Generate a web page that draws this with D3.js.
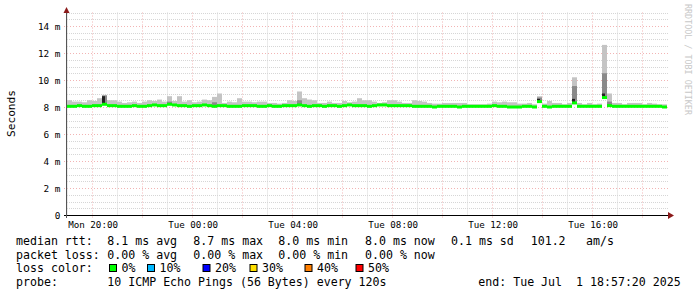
<!DOCTYPE html>
<html>
<head>
<meta charset="utf-8">
<script src="https://cdn.jsdelivr.net/npm/d3@7/dist/d3.min.js"></script>
<style>
body { margin: 0; background: #fff; }
text { font-family: "DejaVu Sans Mono", monospace; fill: #000; }
</style>
</head>
<body>
<div id="chart"></div>
<script>
// median rtt in ms, one value every 12 minutes (120 steps = 24h)
var median = [
	8.05,8.05,8.1,8.05,8.05,8.1,8.1,8.2,8.1,8.1,
	8.05,8.05,8.05,8.1,8.05,8.05,8.1,8.15,8.1,8.1,
	8.2,8.15,8.1,8.1,8.05,8.1,8.1,8.15,8.1,8.05,
	8.1,8.1,8.05,8.05,8.05,8.1,8.1,8.1,8.05,8.05,
	8.1,8.05,8.05,8.1,8.1,8.1,8.15,8.1,8.05,8.1,
	8.1,8.05,8.1,8.1,8.05,8.1,8.15,8.1,8.1,8.1,
	8.05,8.1,8.15,8.15,8.1,8.1,8.1,8.1,8.1,8.05,
	8.05,8.05,8.05,8.0,8.05,8.05,8.05,8.05,8.0,8.05,
	8.05,8.05,8.05,8.05,8.05,8.1,8.05,8.05,8.0,8.0,
	8.0,8.05,8.05,8.0,8.4,8.05,8.0,8.05,8.05,8.05,
	8.05,8.3,8.05,8.05,8.05,8.05,8.05,8.7,8.1,8.05,
	8.05,8.05,8.05,8.05,8.05,8.05,8.05,8.05,8.05,8.0
];

// highest ping of each step (light smoke)
var smokeHi = [
	8.5,8.4,8.4,8.35,8.5,8.45,8.65,8.9,8.5,8.5,
	8.4,8.3,8.35,8.4,8.3,8.4,8.5,8.45,8.55,8.4,
	8.8,8.45,8.8,8.4,8.5,8.35,8.4,8.55,8.5,8.75,
	9.0,8.3,8.4,8.35,8.65,8.4,8.4,8.35,8.4,8.4,
	8.3,8.3,8.25,8.3,8.5,8.45,9.15,8.65,8.55,8.5,
	8.3,8.3,8.4,8.3,8.3,8.45,8.35,8.4,8.65,8.5,
	8.5,8.4,8.3,8.35,8.5,8.5,8.4,8.3,8.3,8.5,
	8.45,8.4,8.3,8.25,8.25,8.3,8.3,8.3,8.3,8.3,
	8.2,8.2,8.2,8.2,8.25,8.4,8.35,8.4,8.35,8.35,
	8.25,8.25,8.3,8.2,8.8,8.25,8.45,8.3,8.3,8.2,
	8.3,10.2,8.3,8.2,8.3,8.2,8.25,12.6,9.0,8.3,
	8.3,8.2,8.3,8.3,8.3,8.2,8.3,8.25,8.2,8.2
];

// darker smoke, only where it shows above the median
var darkIdx = [7, 20, 29, 46, 94, 101, 107, 108];
var darkTop = [8.85, 8.4, 8.35, 8.5, 8.7, 9.55, 10.5, 8.4];
var coreIdx = [7, 94, 101, 107];
var coreTop = [8.8, 8.6, 8.6, 9.0];

var yTicks = [0, 2, 4, 6, 8, 10, 12, 14];
var yTickLabels = ["0", "2 m", "4 m", "6 m", "8 m", "10 m", "12 m", "14 m"];

var lossLabels = ["0%", "10%", "20%", "30%", "40%", "50%"];
var lossColors = ["#00ff00", "#00b8ff", "#0000ff", "#ffe000", "#ff7f00", "#ff0000"];

var rttStats = ["8.1 ms avg", "8.7 ms max", "8.0 ms min", "8.0 ms now", "0.1 ms sd", "101.2", "am/s"];
var lossStats = ["0.00 % avg", "0.00 % max", "0.00 % min", "0.00 % now"];
var probeText = "10 ICMP Echo Pings (56 Bytes) every 120s";
var endText = "end: Tue Jul  1 18:57:20 2025";

var startTime = new Date(2025, 5, 30, 18, 57, 20);
var endTime = new Date(2025, 6, 1, 18, 57, 20);
var stepMs = 12 * 60 * 1000;

var width = 697, height = 297;
var plot = {left: 67, right: 667, top: 12.5, bottom: 215};

var svg = d3.select("#chart").append("svg")
	.attr("width", width)
	.attr("height", height);

var x = d3.scaleTime()
	.domain([startTime, endTime])
	.range([plot.left, plot.right]);

var y = d3.scaleLinear()
	.domain([0, 15])
	.range([plot.bottom, plot.top]);

function t(i) { return new Date(startTime.getTime() + i * stepMs); }

// grid
var grid = svg.append("g");
var minorY = d3.range(0, 15.01, 0.5);
grid.selectAll(".hy")
	.data(minorY).enter()
	.append("line")
	.attr("x1", function(d) { return d % 2 == 0 ? plot.left - 3 : plot.left; })
	.attr("x2", plot.right + 2)
	.attr("y1", function(d) { return Math.round(y(d)) + 0.5; })
	.attr("y2", function(d) { return Math.round(y(d)) + 0.5; })
	.attr("stroke", function(d) { return d % 2 == 0 ? "#f2b4b4" : "#d6d6d6"; })
	.attr("stroke-dasharray", function(d) { return d % 2 == 0 ? "1,2" : "1,1"; });

var hours = x.ticks(d3.timeHour.every(1));
grid.selectAll(".vx")
	.data(hours).enter()
	.append("line")
	.attr("x1", function(d) { return Math.round(x(d)) - 0.5; })
	.attr("x2", function(d) { return Math.round(x(d)) - 0.5; })
	.attr("y1", plot.top)
	.attr("y2", function(d) { return d.getHours() % 2 == 0 ? plot.bottom + 3 : plot.bottom; })
	.attr("stroke", function(d) { return d.getHours() % 2 == 0 ? "#f2b4b4" : "#d6d6d6"; })
	.attr("stroke-dasharray", function(d) { return d.getHours() % 2 == 0 ? "1,2" : "1,1"; });

// smoke
var smoke = svg.append("g");
smoke.selectAll(".hi")
	.data(smokeHi).enter()
	.append("rect")
	.attr("x", function(d, i) { return x(t(i)); })
	.attr("width", function(d, i) { return x(t(i + 1)) - x(t(i)); })
	.attr("y", function(d) { return y(d); })
	.attr("height", function(d, i) { return Math.max(0, y(median[i]) - y(d)); })
	.attr("fill", "#c4c4c4");

smoke.selectAll(".dark")
	.data(darkIdx).enter()
	.append("rect")
	.attr("x", function(d) { return x(t(d)); })
	.attr("width", function(d) { return x(t(d + 1)) - x(t(d)); })
	.attr("y", function(d, k) { return y(darkTop[k]); })
	.attr("height", function(d, k) { return Math.max(0, y(median[d]) - y(darkTop[k])); })
	.attr("fill", "#8a8a8a");

smoke.selectAll(".core")
	.data(coreIdx).enter()
	.append("rect")
	.attr("x", function(d) { return x(t(d)); })
	.attr("width", function(d) { return (x(t(d + 1)) - x(t(d))) * 0.6; })
	.attr("y", function(d, k) { return y(coreTop[k]); })
	.attr("height", function(d, k) { return Math.max(0, y(median[d]) - y(coreTop[k])); })
	.attr("fill", "#222");

// median: smokeping stacks a thin band per step, no vertical joins
svg.append("g").selectAll(".med")
	.data(median).enter()
	.append("rect")
	.attr("x", function(d, i) { return x(t(i)); })
	.attr("width", function(d, i) { return x(t(i + 1)) - x(t(i)); })
	.attr("y", function(d) { return y(d) - 1.5; })
	.attr("height", 3)
	.attr("fill", "#00ff00");

// axes
svg.append("line")
	.attr("x1", plot.left - 3).attr("x2", 669)
	.attr("y1", plot.bottom + 0.5).attr("y2", plot.bottom + 0.5)
	.attr("stroke", "#000");
svg.append("line")
	.attr("x1", plot.left - 0.5).attr("x2", plot.left - 0.5)
	.attr("y1", plot.bottom + 3).attr("y2", 12)
	.attr("stroke", "#555");
svg.append("path")
	.attr("d", "M668,212L674,215.5L668,219Z")
	.attr("fill", "#8b1a1a");
svg.append("path")
	.attr("d", "M63.5,13L66.5,7L69.5,13Z")
	.attr("fill", "#8b1a1a");

// tick labels
svg.selectAll(".ylab")
	.data(yTicks).enter()
	.append("text")
	.attr("x", 60.5)
	.attr("y", function(d) { return y(d) + 3.5; })
	.attr("text-anchor", "end")
	.style("font-size", "9.4px")
	.text(function(d, i) { return yTickLabels[i]; });

var fmt = d3.timeFormat("%a %H:%M");
svg.selectAll(".xlab")
	.data(hours.filter(function(d) { return d.getHours() % 4 == 0; })).enter()
	.append("text")
	.attr("x", function(d) { return x(d); })
	.attr("y", 227.5)
	.attr("text-anchor", "middle")
	.style("font-size", "9.2px")
	.text(fmt);

svg.append("text")
	.attr("transform", "translate(14.5,113.5) rotate(-90)")
	.attr("text-anchor", "middle")
	.style("font-size", "11.2px")
	.text("Seconds");

svg.append("text")
	.attr("transform", "translate(685,59.5) rotate(90)")
	.attr("text-anchor", "middle")
	.style("font-size", "8.4px")
	.style("fill", "#c8c8c8")
	.text("RRDTOOL / TOBI OETIKER");

// legend
var legend = svg.append("g").style("font-size", "11.6px");
var rowY = [244.5, 258.5, 272.3, 286];
var statX = [107.3, 193.3, 278.3, 365, 451, 530.7, 586];

legend.append("text").attr("x", 16).attr("y", rowY[0]).text("median rtt:");
legend.selectAll(".rtt")
	.data(rttStats).enter()
	.append("text")
	.attr("x", function(d, i) { return statX[i]; })
	.attr("y", rowY[0])
	.text(function(d) { return d; });

legend.append("text").attr("x", 16).attr("y", rowY[1]).text("packet loss:");
legend.selectAll(".loss")
	.data(lossStats).enter()
	.append("text")
	.attr("x", function(d, i) { return statX[i]; })
	.attr("y", rowY[1])
	.text(function(d) { return d; });

legend.append("text").attr("x", 16).attr("y", rowY[2]).text("loss color:");
var boxX = [109.5, 147.5, 203, 250, 305, 356];
legend.selectAll(".box")
	.data(lossColors).enter()
	.append("rect")
	.attr("x", function(d, i) { return boxX[i]; })
	.attr("y", 264.5)
	.attr("width", 7).attr("height", 7)
	.attr("fill", function(d) { return d; })
	.attr("stroke", "#000");
legend.selectAll(".pct")
	.data(lossLabels).enter()
	.append("text")
	.attr("x", function(d, i) { return boxX[i] + 12; })
	.attr("y", rowY[2])
	.text(function(d) { return d; });

legend.append("text").attr("x", 16).attr("y", rowY[3]).text("probe:");
legend.append("text").attr("x", 107.3).attr("y", rowY[3]).text(probeText);
legend.append("text").attr("x", 478.3).attr("y", rowY[3]).style("white-space", "pre").text(endText);
</script>
</body>
</html>
